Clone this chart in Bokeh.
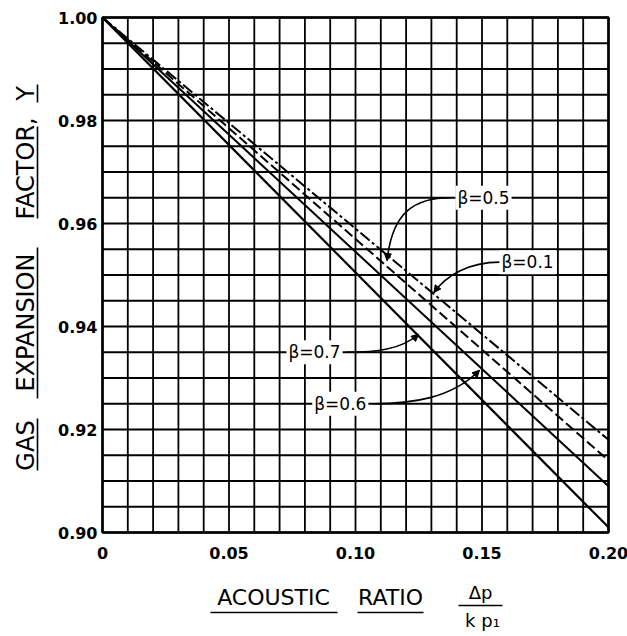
import math
from bokeh.plotting import figure
from bokeh.models import Range1d, Label, Arrow, NormalHead
from bokeh.embed import file_html
from bokeh.resources import INLINE

# Acoustic ratio (dp / k p1) at the ends of each straight line
ratio = [0.0, 0.20]
# Gas expansion factor Y at those ratios, one list per diameter ratio beta
y_beta_01 = [1.000, 0.918]
y_beta_05 = [1.000, 0.914]
y_beta_06 = [1.000, 0.909]
y_beta_07 = [1.000, 0.901]

x_ticks = [0.0, 0.05, 0.10, 0.15, 0.20]
x_tick_labels = ["0", "0.05", "0.10", "0.15", "0.20"]
y_ticks = [0.90, 0.92, 0.94, 0.96, 0.98, 1.00]
y_tick_labels = ["0.90", "0.92", "0.94", "0.96", "0.98", "1.00"]

FONT = "DejaVu Sans"
W, H = 627, 636

# chart box: ratio 0..0.20 spans 506 px, Y 0.90..1.00 spans 515 px
XMIN, XMAX = ratio[0], ratio[-1]
YMIN, YMAX = y_ticks[0], y_ticks[-1]
PX_X = 506 / (XMAX - XMIN)
PX_Y = 515 / (YMAX - YMIN)
LEFT, TOP = 102, 17

# the frame covers the whole canvas so the titles can sit round the chart box
x_range = Range1d(XMIN - LEFT / PX_X, XMIN + (W - LEFT) / PX_X)
y_range = Range1d(YMAX - (H - TOP) / PX_Y, YMAX + TOP / PX_Y)

p = figure(width=W, height=H, output_backend="svg", toolbar_location=None,
           x_range=x_range, y_range=y_range, min_border=0,
           x_axis_location=None, y_axis_location=None)
p.grid.visible = False
p.outline_line_color = None
p.background_fill_color = "white"
p.border_fill_color = "white"


def px_x(px):
    return XMIN + (px - LEFT) / PX_X


def px_y(py):
    return YMAX - (py - TOP) / PX_Y


# fine chart-paper grid: 0.01 in ratio, 0.005 in Y
gx = [XMIN + 0.01 * i for i in range(21)]
gy = [YMIN + 0.005 * i for i in range(21)]
p.segment(x0=gx, y0=[YMIN] * len(gx), x1=gx, y1=[YMAX] * len(gx),
          line_color="black", line_width=1.8)
p.segment(x0=[XMIN] * len(gy), y0=gy, x1=[XMAX] * len(gy), y1=gy,
          line_color="black", line_width=1.8)
p.quad(left=[XMIN], right=[XMAX], bottom=[YMIN], top=[YMAX],
       fill_color=None, line_color="black", line_width=2.6)

# tick labels
p.text(x=x_ticks, y=[YMIN] * len(x_ticks), text=x_tick_labels, y_offset=14,
       text_align="center", text_baseline="top", text_font_size="16px",
       text_font_style="bold", text_color="black", text_font={"value": FONT})
p.text(x=[XMIN] * len(y_ticks), y=y_ticks, text=y_tick_labels, x_offset=-5,
       text_align="right", text_baseline="middle", text_font_size="16px",
       text_font_style="bold", text_color="black", text_font={"value": FONT})

# the four beta lines
p.line(ratio, y_beta_07, line_color="black", line_width=2.2)
p.line(ratio, y_beta_06, line_color="black", line_width=2.0)
p.line(ratio, y_beta_05, line_color="black", line_width=2.0, line_dash="10 4")
p.line(ratio, y_beta_01, line_color="black", line_width=2.0, line_dash="12 3 3 3")


def beta_label(text, x, y):
    p.add_layout(Label(x=x, y=y, text=text, text_font=FONT, text_font_size="17px",
                       text_color="black", text_align="center",
                       text_baseline="middle", background_fill_color="white",
                       padding=2))


def leader(x0, y0, cx0, cy0, cx1, cy1, x1, y1):
    p.bezier(x0=[x0], y0=[y0], x1=[x1], y1=[y1], cx0=[cx0], cy0=[cy0],
             cx1=[cx1], cy1=[cy1], line_color="black", line_width=1.6)
    # arrow head along the final tangent
    dx, dy = x1 - cx1, y1 - cy1
    p.add_layout(Arrow(end=NormalHead(size=7, fill_color="black", line_color="black"),
                       x_start=x1 - 0.12 * dx, y_start=y1 - 0.12 * dy,
                       x_end=x1, y_end=y1, line_color="black", line_width=1.4))


leader(0.1375, 0.965, 0.124, 0.965, 0.1145, 0.9625, 0.1125, 0.9528)
beta_label("β=0.5", 0.1506, 0.965)

leader(0.1570, 0.9525, 0.145, 0.9525, 0.136, 0.950, 0.1310, 0.9466)
beta_label("β=0.1", 0.1680, 0.9525)

leader(0.0965, 0.935, 0.108, 0.935, 0.118, 0.9355, 0.1249, 0.9385)
beta_label("β=0.7", 0.0838, 0.935)

leader(0.1070, 0.925, 0.122, 0.925, 0.138, 0.926, 0.1490, 0.9315)
beta_label("β=0.6", 0.0940, 0.925)


# axis titles, each word underlined
def underline(x0, y0, x1, y1):
    p.segment(x0=[x0], y0=[y0], x1=[x1], y1=[y1], line_color="black",
              line_width=1.6)


def word(text, x, y, size, angle=0.0, align="center"):
    p.add_layout(Label(x=x, y=y, text=text, text_font=FONT, text_font_size=size,
                       angle=angle, text_align=align, text_baseline="middle",
                       text_color="black"))


# vertical title
vx = px_x(25)
ux = px_x(37)
word("GAS", vx, px_y(445), "24px", math.pi / 2)
word("EXPANSION", vx, px_y(322), "24px", math.pi / 2)
word("FACTOR,", vx, px_y(219), "24px", math.pi / 2, align="left")
word("Y", vx, px_y(93), "24px", math.pi / 2)
underline(ux, px_y(470), ux, px_y(418))
underline(ux, px_y(398), ux, px_y(247))
underline(ux, px_y(218), ux, px_y(126))
underline(ux, px_y(102), ux, px_y(84))

# horizontal title
ty = px_y(597)
uy = px_y(612)
word("ACOUSTIC", px_x(273), ty, "22px")
word("RATIO", px_x(390), ty, "22px")
underline(px_x(210), uy, px_x(337), uy)
underline(px_x(357), uy, px_x(423), uy)
word("Δp", px_x(480), px_y(592), "18px")
underline(px_x(458), px_y(605), px_x(502), px_y(605))
word("k p₁", px_x(482), px_y(620), "18px")

open("out.html", "w").write(file_html(p, INLINE))
